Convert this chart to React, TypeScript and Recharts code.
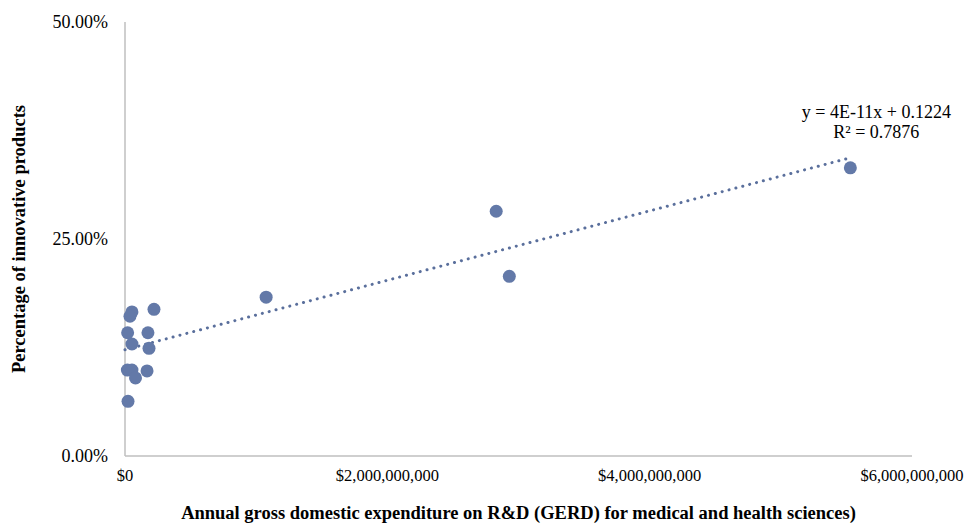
import React from 'react';
import { ScatterChart, Scatter, XAxis, YAxis, ReferenceDot } from 'recharts';

// GERD for medical and health sciences (USD) vs share of innovative products
const gerdValues = [
  5.53e9, 2.83e9, 2.93e9, 1.076e9, 0.221e9, 0.053e9, 0.038e9, 0.02e9,
  0.175e9, 0.053e9, 0.183e9, 0.018e9, 0.053e9, 0.168e9, 0.08e9, 0.023e9,
];
const innovativeShare = [
  0.332, 0.282, 0.207, 0.183, 0.169, 0.166, 0.161, 0.142,
  0.142, 0.129, 0.124, 0.099, 0.099, 0.098, 0.09, 0.063,
];
const xTicks = [0, 2e9, 4e9, 6e9];
const yTicks = [0, 0.25, 0.5];

// linear trendline from the reference: y = 4E-11x + 0.1224
const slope = 4e-11;
const intercept = 0.1224;
const trendEnds = [0, 5.53e9];

const points = gerdValues.map((x, i) => ({ x, y: innovativeShare[i] }));
const trend = trendEnds.map((x) => ({ x, y: slope * x + intercept }));
const lastTrend = trend[trend.length - 1];

const BLUE = '#6379a8';
const FONT = '"Liberation Serif", "Times New Roman", serif';

const fmtMoney = (v: number) => '$' + v.toLocaleString('en-US');
const fmtPct = (v: number) => (v * 100).toFixed(2) + '%';

const Dot = (props: any) => <circle cx={props.cx} cy={props.cy} r={6.5} fill={BLUE} />;
const NoDot = () => null;

const EquationLabel = ({ viewBox }: any) => {
  const cx = viewBox.x + viewBox.width / 2 + 26;
  const cy = viewBox.y + viewBox.height / 2;
  return (
    <text x={cx} y={cy - 40} textAnchor="middle" fontFamily={FONT} fontSize={18} fill="#000">
      <tspan x={cx}>y = 4E-11x + 0.1224</tspan>
      <tspan x={cx} dy={20}>R² = 0.7876</tspan>
    </text>
  );
};

export default function App() {
  return (
    <div style={{ position: 'absolute', left: 0, top: 0, background: '#fff' }}>
      <ScatterChart width={972} height={525} margin={{ top: 22, right: 60, bottom: 5, left: 5 }}>
        <XAxis
          type="number"
          dataKey="x"
          domain={[0, 6e9]}
          ticks={xTicks}
          tickFormatter={fmtMoney}
          axisLine={{ stroke: '#bfbfbf', strokeWidth: 1.5 }}
          tickLine={false}
          tickSize={0}
          tickMargin={13}
          height={64}
          tick={{ fill: '#000', fontSize: 16.5, fontFamily: FONT }}
          label={{
            value: 'Annual gross domestic expenditure on R&D (GERD) for medical and health sciences)',
            position: 'insideBottom',
            offset: 1,
            style: { fontFamily: FONT, fontWeight: 'bold', fontSize: 18.5, fill: '#000' },
          }}
        />
        <YAxis
          type="number"
          dataKey="y"
          domain={[0, 0.5]}
          ticks={yTicks}
          tickFormatter={fmtPct}
          axisLine={{ stroke: '#bfbfbf', strokeWidth: 1.5 }}
          tickLine={false}
          tickSize={0}
          tickMargin={17}
          width={120}
          tick={{ fill: '#000', fontSize: 18, fontFamily: FONT }}
          label={{
            value: 'Percentage of innovative products',
            angle: -90,
            position: 'insideLeft',
            offset: 13,
            style: { textAnchor: 'middle', fontFamily: FONT, fontWeight: 'bold', fontSize: 18.5, fill: '#000' },
          }}
        />
        <Scatter
          data={trend}
          line={{ stroke: '#5a6f9c', strokeWidth: 3, strokeDasharray: '0.1 7', strokeLinecap: 'round' }}
          shape={NoDot}
          legendType="none"
          isAnimationActive={false}
        />
        <Scatter data={points} shape={Dot} fill={BLUE} isAnimationActive={false} />
        <ReferenceDot x={lastTrend.x} y={lastTrend.y} r={0} stroke="none" label={<EquationLabel />} />
      </ScatterChart>
    </div>
  );
}
